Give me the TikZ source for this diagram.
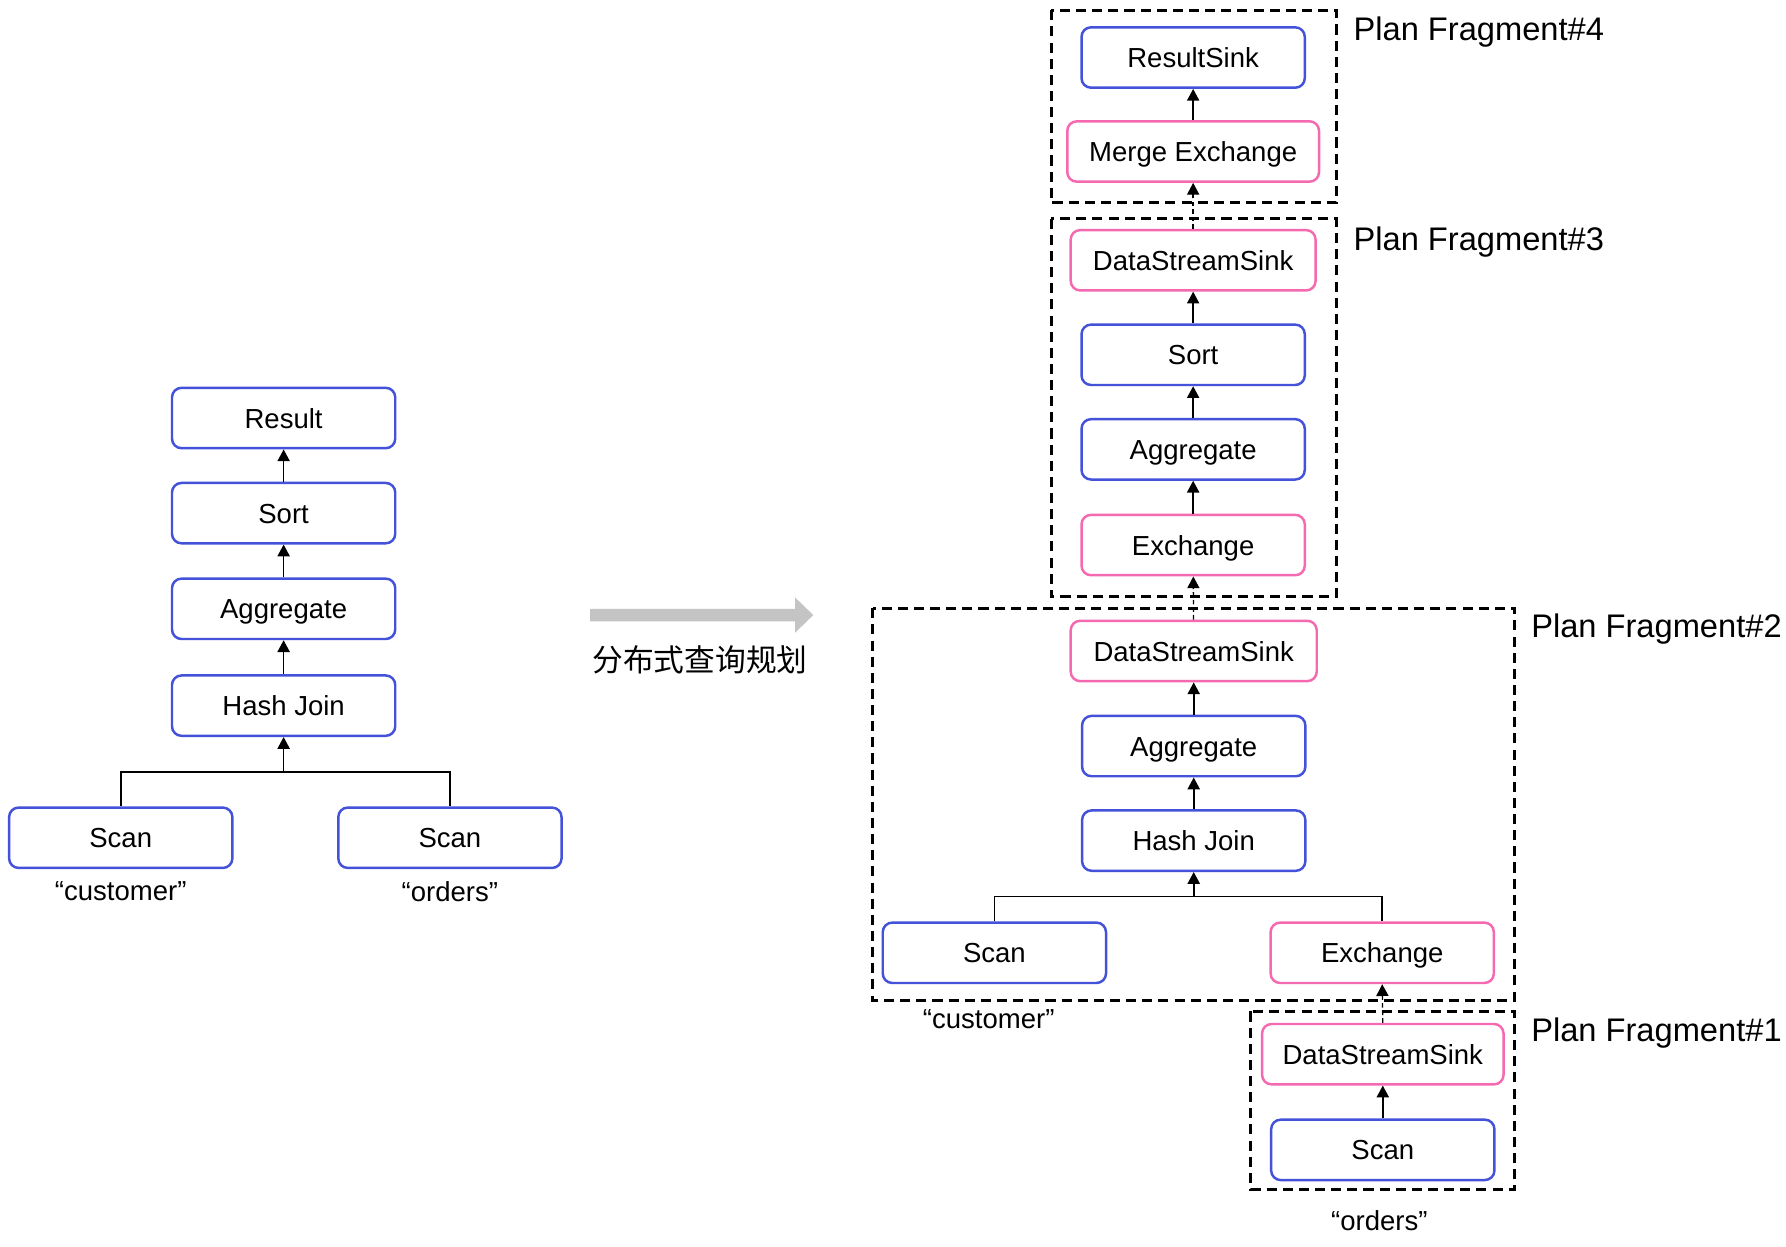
\documentclass[tikz,border=0pt]{standalone}
\usepackage{fontspec}
\setmainfont{Liberation Sans}
\newfontfamily\cjkfont{Noto Sans CJK SC}
\usetikzlibrary{arrows.meta}
\definecolor{opblue}{HTML}{4352D9}
\definecolor{oppink}{HTML}{F569B0}
\definecolor{arrgray}{HTML}{C4C4C4}
\begin{document}
\begin{tikzpicture}[x=0.6pt,y=-0.6pt,
  op/.style={draw=opblue, line width=1.3pt, rounded corners=5pt, minimum width=117.6pt, minimum height=31.8pt, inner sep=0pt, font=\fontsize{14.5}{17}\selectfont, text height=10.6pt, text depth=0pt, fill=white},
  ex/.style={op, draw=oppink},
  conn/.style={line width=0.9pt, -{Triangle[length=6.2pt,width=6.4pt]}},
  bus/.style={line width=0.9pt},
  dconn/.style={line width=0.7pt, dash pattern=on 2.4pt off 1.6pt, -{Triangle[length=6.2pt,width=6.4pt]}},
  frame/.style={line width=1.6pt, dash pattern=on 5.3pt off 3.2pt},
  lbl/.style={font=\fontsize{14.5}{17}\selectfont, inner sep=0pt},
  flbl/.style={font=\fontsize{17.2}{20}\selectfont, inner sep=0pt, anchor=base west}]
\useasboundingbox (0,0) rectangle (1568,1094);

% ---------- left tree ----------
\node[op] (r0) at (249,367) {Result};
\node[op] (s0) at (249,450.5) {Sort};
\node[op] (a0) at (249,534.5) {Aggregate};
\node[op] (h0) at (249,619.5) {Hash Join};
\node[op] (c0) at (106,735.5) {Scan};
\node[op] (o0) at (395,735.5) {Scan};
\node[lbl] (ct0) at (106,782) {“customer”};
\node[lbl] (ot0) at (395,783) {“orders”};
\coordinate (b0) at (249,678);
\draw[conn] (s0) -- (r0);
\draw[conn] (a0) -- (s0);
\draw[conn] (h0) -- (a0);
\draw[bus] (c0.north) |- (b0) -| (o0.north);
\draw[conn] (b0) -- (h0);

% ---------- transform arrow ----------
\fill[arrgray] (518,534.5) -- (698,534.5) -- (698,524.5) -- (714,540) -- (698,555.5) -- (698,545.5) -- (518,545.5) -- cycle;
\node[inner sep=0pt, font=\cjkfont\fontsize{16.2}{20}\selectfont] (plan) at (614.5,579) {分布式查询规划};

% ---------- fragments ----------
\draw[frame] (923,9) rectangle (1173,178);
\draw[frame] (923,192) rectangle (1173,524);
\draw[frame] (766,534) rectangle (1330,878);
\draw[frame] (1098,888) rectangle (1330,1044);

\node[flbl] (f4) at (1188,35.5) {Plan Fragment\#4};
\node[flbl] (f3) at (1188,219.5) {Plan Fragment\#3};
\node[flbl] (f2) at (1344,559.5) {Plan Fragment\#2};
\node[flbl] (f1) at (1344,914.5) {Plan Fragment\#1};

% fragment 4
\node[op] (rs) at (1047.5,50.5) {ResultSink};
\node[ex, minimum width=132.6pt] (mx) at (1047.5,133) {Merge Exchange};
% fragment 3
\node[ex, minimum width=129pt] (ds3) at (1047.5,228.5) {DataStreamSink};
\node[op] (s3) at (1047.5,311.5) {Sort};
\node[op] (a3) at (1047.5,394.5) {Aggregate};
\node[ex] (e3) at (1047.5,478.5) {Exchange};
% fragment 2
\node[ex, minimum width=129.6pt] (ds2) at (1048,571.5) {DataStreamSink};
\node[op] (a2) at (1048,655) {Aggregate};
\node[op] (h2) at (1048,738) {Hash Join};
\node[op] (c2) at (873,836.5) {Scan};
\node[ex] (e2) at (1213.5,836.5) {Exchange};
\coordinate (b2) at (1048,787);
\node[lbl] (ct2) at (868,895) {“customer”};
% fragment 1
\node[ex, minimum width=127.2pt] (ds1) at (1214,925.5) {DataStreamSink};
\node[op] (c1) at (1214,1009.5) {Scan};
\node[lbl] (ot1) at (1211,1072) {“orders”};

\draw[conn] (mx) -- (rs);
\draw[dconn] (ds3) -- (mx);
\draw[conn] (s3) -- (ds3);
\draw[conn] (a3) -- (s3);
\draw[conn] (e3) -- (a3);
\draw[dconn] (ds2) -- (e3);
\draw[conn] (a2) -- (ds2);
\draw[conn] (h2) -- (a2);
\draw[bus] (c2.north) |- (b2) -| (e2.north);
\draw[conn] (b2) -- (h2);
\draw[dconn] (ds1.north) -- (e2.south);
\draw[conn] (c1) -- (ds1);
\end{tikzpicture}
\end{document}
